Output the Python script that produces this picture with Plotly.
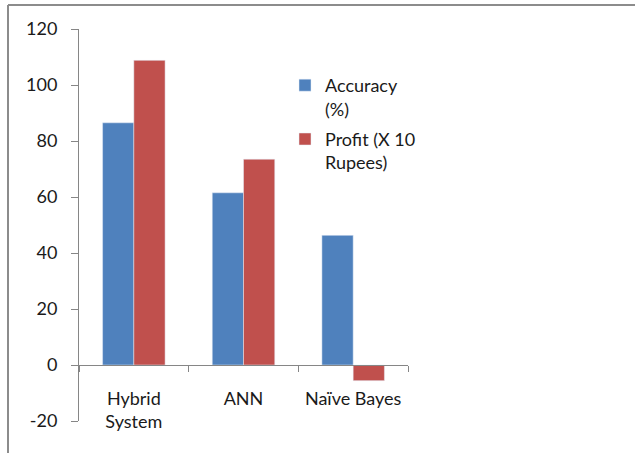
import plotly.graph_objects as go

# Chart data
categories = ["Hybrid<br>System", "ANN", "Naïve Bayes"]
accuracy = [86.5, 61.5, 46.3]
profit = [108.8, 73.5, -5.6]
series_names = ["Accuracy<br>(%)", "Profit (X 10<br>Rupees)"]
y_ticks = [-20, 0, 20, 40, 60, 80, 100, 120]
y_tick_text = ["-20", "0", "20", "40", "60", "80", "100", "120"]

BLUE = "#4F81BD"
RED = "#C0504D"
AXIS = "#868686"
FONT = dict(family="Lato, 'Open Sans', sans-serif", size=18, color="#1a1a1a")

W, H = 635, 453
M = dict(l=79, r=227, t=29, b=32)
ymin, ymax = -20, 120


def px_to_paper(px, py):
    """Convert page pixels into paper coordinates of the plot area."""
    pw = W - M["l"] - M["r"]
    ph = H - M["t"] - M["b"]
    return (px - M["l"]) / pw, 1 - (py - M["t"]) / ph


fig = go.Figure()
fig.add_trace(go.Bar(x=categories, y=accuracy, name=series_names[0],
                     legendgroup="acc", marker=dict(color=BLUE)))
fig.add_trace(go.Bar(x=categories, y=profit, name=series_names[1],
                     legendgroup="profit", marker=dict(color=RED)))

# Outer frame: grey rule along the top and the left edge
x0, y0 = px_to_paper(8, 5)
x1, y1 = px_to_paper(W + 2, H + 2)
frame = dict(color="#8C8C8C", width=2)
fig.add_shape(type="line", xref="paper", yref="paper", x0=x0, y0=y0, x1=x1, y1=y0, line=frame)
fig.add_shape(type="line", xref="paper", yref="paper", x0=x0, y0=y0, x1=x0, y1=y1, line=frame)

lx, ly = px_to_paper(285, 67)

fig.update_layout(
    width=W, height=H,
    margin=M,
    paper_bgcolor="white", plot_bgcolor="white",
    font=FONT,
    barmode="group", bargap=0.43, bargroupgap=0,
    showlegend=True,
    legend=dict(x=lx, y=ly, xanchor="left", yanchor="top",
                valign="top", bgcolor="rgba(0,0,0,0)",
                traceorder="grouped", tracegroupgap=4,
                font=FONT, itemwidth=30),
    xaxis=dict(
        anchor="free", position=(0 - ymin) / (ymax - ymin),
        showline=True, linecolor=AXIS, linewidth=1,
        ticks="outside", tickson="boundaries", ticklen=6, tickcolor=AXIS,
        ticklabelstandoff=17,
        showgrid=False, zeroline=False, tickfont=FONT,
    ),
    yaxis=dict(
        range=[ymin, ymax], tickvals=y_ticks, ticktext=y_tick_text,
        showline=True, linecolor=AXIS, linewidth=1,
        ticks="outside", ticklen=7, tickcolor=AXIS,
        ticklabelstandoff=10,
        showgrid=False, zeroline=False, tickfont=FONT,
    ),
)

fig.write_html("out.html")
